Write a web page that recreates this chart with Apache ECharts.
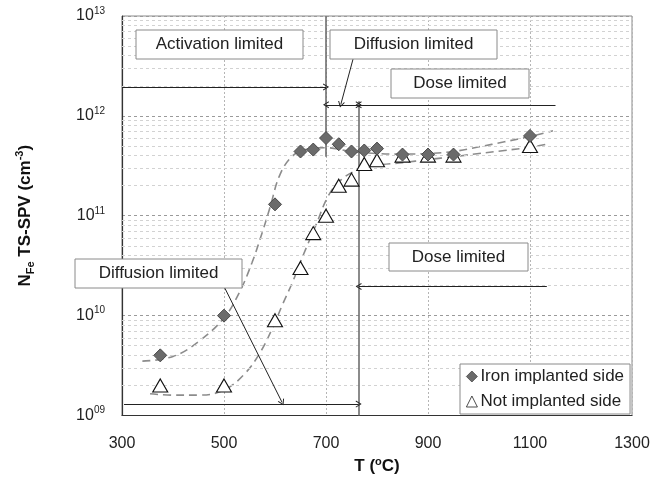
<!DOCTYPE html>
<html>
<head>
<meta charset="utf-8">
<script src="https://cdn.jsdelivr.net/npm/echarts@6/dist/echarts.min.js"></script>
<style>
html,body{margin:0;padding:0;background:#fff;}
#chart{width:665px;height:480px;}
</style>
</head>
<body>
<div id="chart"></div>
<script>
// ---- data ----
const xTicks = [300, 500, 700, 900, 1100, 1300];
const yExponents = [9, 10, 11, 12, 13];

const ironT = [375, 500, 600, 650, 675, 700, 725, 750, 775, 800, 850, 900, 950, 1100];
const ironN = [4.0e9, 1.0e10, 1.3e11, 4.4e11, 4.6e11, 6.0e11, 5.2e11, 4.4e11, 4.5e11, 4.7e11, 4.1e11, 4.1e11, 4.1e11, 6.3e11];

const notT = [375, 500, 600, 650, 675, 700, 725, 750, 775, 800, 850, 900, 950, 1100];
const notN = [2.0e9, 2.0e9, 9.0e9, 3.0e10, 6.7e10, 1.0e11, 2.0e11, 2.3e11, 3.3e11, 3.6e11, 4.0e11, 4.0e11, 4.0e11, 5.0e11];

// dashed guide curves
const ironFitT = [340, 400, 450, 500, 530, 555, 575, 590, 610, 635, 660, 700, 750, 800, 850, 900, 950, 1000, 1050, 1100, 1145];
const ironFitN = [3.5e9, 3.9e9, 5.5e9, 9.5e9, 1.7e10, 3.4e10, 6.8e10, 1.2e11, 2.6e11, 4.0e11, 4.6e11, 4.8e11, 4.4e11, 4.2e11, 4.15e11, 4.2e11, 4.4e11, 4.9e11, 5.5e11, 6.2e11, 7.1e11];
const notFitT = [355, 400, 450, 500, 540, 570, 595, 615, 635, 655, 680, 705, 730, 764, 800, 850, 900, 950, 1000, 1050, 1100, 1132];
const notFitN = [1.65e9, 1.6e9, 1.6e9, 1.8e9, 2.6e9, 4.2e9, 7.5e9, 1.3e10, 2.2e10, 4.0e10, 8.0e10, 1.6e11, 2.3e11, 2.9e11, 3.2e11, 3.4e11, 3.65e11, 3.9e11, 4.2e11, 4.5e11, 4.85e11, 5.2e11];

// regime boundaries (°C)
const T_activation = 700;
const T_dose = 764;

const FONT = 'Liberation Sans, Arial, Helvetica, sans-serif';
const chev = 'path://M0,10 L5,0 L10,10 L8.6,10.6 L5,3 L1.4,10.6 Z';

function pairs(xs, ys) { return xs.map((x, i) => [x, ys[i]]); }

const minorVals = [];
for (let e = 9; e < 13; e++) for (let m = 2; m <= 9; m++) minorVals.push(m * Math.pow(10, e));

function seg(a, b, headStart, headEnd, style) {
  return [
    { coord: a, symbol: headStart ? chev : 'none', symbolSize: [7, 6], lineStyle: style },
    { coord: b, symbol: headEnd ? chev : 'none', symbolSize: [7, 6] }
  ];
}
const arrowStyle = { color: '#222', width: 1, type: 'solid' };
const vStyle = { color: '#6e6e6e', width: 1.6, type: 'solid' };

const annotations = [
  seg([T_activation, 1e13], [T_activation, 3.9e11], false, false, vStyle),
  seg([T_dose, 1.4e12], [T_dose, 1e9], false, false, vStyle),
  seg([300, 1.95e12], [T_activation, 1.95e12], false, true, arrowStyle),
  seg([T_activation, 1.29e12], [T_dose, 1.29e12], true, true, arrowStyle),
  seg([T_dose, 1.29e12], [1150, 1.29e12], true, false, arrowStyle),
  seg([753, 3.7e12], [729, 1.3e12], false, true, arrowStyle),
  seg([T_dose, 1.96e10], [1133, 1.96e10], true, false, arrowStyle),
  seg([500, 1.96e10], [614, 1.35e9], false, true, arrowStyle),
  seg([304, 1.3e9], [T_dose, 1.3e9], false, true, arrowStyle)
];

function box(x, y, w, h, label) {
  return {
    type: 'group', z: 100,
    children: [
      { type: 'rect', z: 100, shape: { x: x, y: y, width: w, height: h }, style: { fill: '#fff', stroke: '#8a8a8a', lineWidth: 1 } },
      { type: 'text', z: 101, x: x + w / 2, y: y + h / 2, style: { text: label, font: '17px ' + FONT, fill: '#222', align: 'center', verticalAlign: 'middle' } }
    ]
  };
}

const chart = echarts.init(document.getElementById('chart'), null, { renderer: 'canvas' });

const option = {
  animation: false,
  backgroundColor: '#fff',
  textStyle: { fontFamily: FONT },
  grid: { left: 122, top: 16, width: 510, height: 402, show: true, borderColor: '#8a8a8a', borderWidth: 1, backgroundColor: 'transparent' },
  xAxis: {
    type: 'value', min: xTicks[0], max: xTicks[xTicks.length - 1], interval: 200,
    axisLine: { show: true, lineStyle: { color: '#333', width: 1.2 } },
    axisTick: { show: false },
    axisLabel: { fontSize: 16, color: '#222', margin: 20, fontFamily: FONT, formatter: function (v) { return String(v); } },
    splitLine: { show: true, lineStyle: { color: '#b5b5b5', type: [2, 2], width: 1 } },
    name: '{b|T (}{s|o}{b|C)}',
    nameLocation: 'middle', nameGap: 41,
    nameTextStyle: {
      rich: {
        b: { fontSize: 17, fontWeight: 'bold', color: '#111', fontFamily: FONT, lineHeight: 20 },
        s: { fontSize: 11, fontWeight: 'bold', color: '#111', fontFamily: FONT, verticalAlign: 'top', lineHeight: 12 }
      }
    }
  },
  yAxis: {
    type: 'log', logBase: 10, min: Math.pow(10, yExponents[0]), max: Math.pow(10, yExponents[yExponents.length - 1]),
    axisLine: { show: true, lineStyle: { color: '#333', width: 1.2 } },
    axisTick: { show: false },
    axisLabel: {
      margin: 17,
      formatter: function (v) {
        const e = Math.round(Math.log10(v));
        return '{b|10}{s|' + String(e).padStart(2, '0') + '}';
      },
      rich: {
        b: { fontSize: 16, color: '#222', fontFamily: FONT, lineHeight: 20 },
        s: { fontSize: 10, color: '#222', fontFamily: FONT, verticalAlign: 'top', lineHeight: 11 }
      }
    },
    splitLine: { show: true, lineStyle: { color: '#9a9a9a', type: [3, 3], width: 1 } },
    name: '{b|N}{sub|Fe}{b| TS-SPV (cm}{sup|-3}{b|)}',
    nameLocation: 'middle', nameGap: 86, nameRotate: 90,
    nameTextStyle: {
      rich: {
        b: { fontSize: 17, fontWeight: 'bold', color: '#111', fontFamily: FONT, lineHeight: 22 },
        sub: { fontSize: 11, fontWeight: 'bold', color: '#111', fontFamily: FONT, verticalAlign: 'bottom', lineHeight: 12 },
        sup: { fontSize: 11, fontWeight: 'bold', color: '#111', fontFamily: FONT, verticalAlign: 'top', lineHeight: 12 }
      }
    }
  },
  legend: {
    data: [
      { name: 'Iron implanted side', itemStyle: { color: '#6b6b6b', borderColor: '#4a4a4a', borderWidth: 0.8 } },
      { name: 'Not implanted side', itemStyle: { color: '#ffffff', borderColor: '#222', borderWidth: 0.8 } }
    ],
    orient: 'vertical', left: 460, top: 364,
    backgroundColor: '#fff', borderColor: '#8a8a8a', borderWidth: 1,
    padding: [4, 6, 4, 6], itemGap: 8, itemWidth: 11, itemHeight: 11,
    textStyle: { fontSize: 17, color: '#222', fontFamily: FONT, padding: [0, 0, 0, -2] },
    z: 30
  },
  graphic: [
    box(136, 30, 167, 29, 'Activation limited'),
    box(330, 30, 167, 29, 'Diffusion limited'),
    box(391, 69, 138, 29, 'Dose limited'),
    box(389, 243, 139, 28, 'Dose limited'),
    box(75, 259, 167, 29, 'Diffusion limited')
  ],
  series: [
    {
      name: 'minor-grid', type: 'line', data: [], silent: true, z: 1,
      markLine: {
        silent: true, symbol: 'none', animation: false,
        label: { show: false },
        lineStyle: { color: '#d2d2d2', type: [3, 3], width: 1 },
        data: minorVals.map(v => ({ yAxis: v }))
      }
    },
    {
      name: 'Iron fit', type: 'line', data: pairs(ironFitT, ironFitN), smooth: 0.4,
      showSymbol: false, symbol: 'none', silent: true, z: 3,
      lineStyle: { color: '#8c8c8c', width: 1.6, type: [8, 5] }
    },
    {
      name: 'Not fit', type: 'line', data: pairs(notFitT, notFitN), smooth: 0.4,
      showSymbol: false, symbol: 'none', silent: true, z: 3,
      lineStyle: { color: '#8c8c8c', width: 1.6, type: [8, 5] }
    },
    {
      name: 'annotations', type: 'line', data: [], silent: true, z: 4,
      markLine: {
        silent: true, animation: false, symbol: 'none',
        label: { show: false },
        data: annotations
      }
    },
    {
      name: 'Not implanted side', type: 'scatter', data: pairs(notT, notN), z: 5,
      symbol: 'triangle', symbolSize: [15, 13],
      itemStyle: { color: '#ffffff', borderColor: '#111', borderWidth: 1.1, opacity: 1 }
    },
    {
      name: 'Iron implanted side', type: 'scatter', data: pairs(ironT, ironN), z: 6,
      symbol: 'diamond', symbolSize: [13, 13],
      itemStyle: { color: '#6b6b6b', borderColor: '#4a4a4a', borderWidth: 1, opacity: 1 }
    }
  ]
};
chart.setOption(option);
</script>
</body>
</html>
